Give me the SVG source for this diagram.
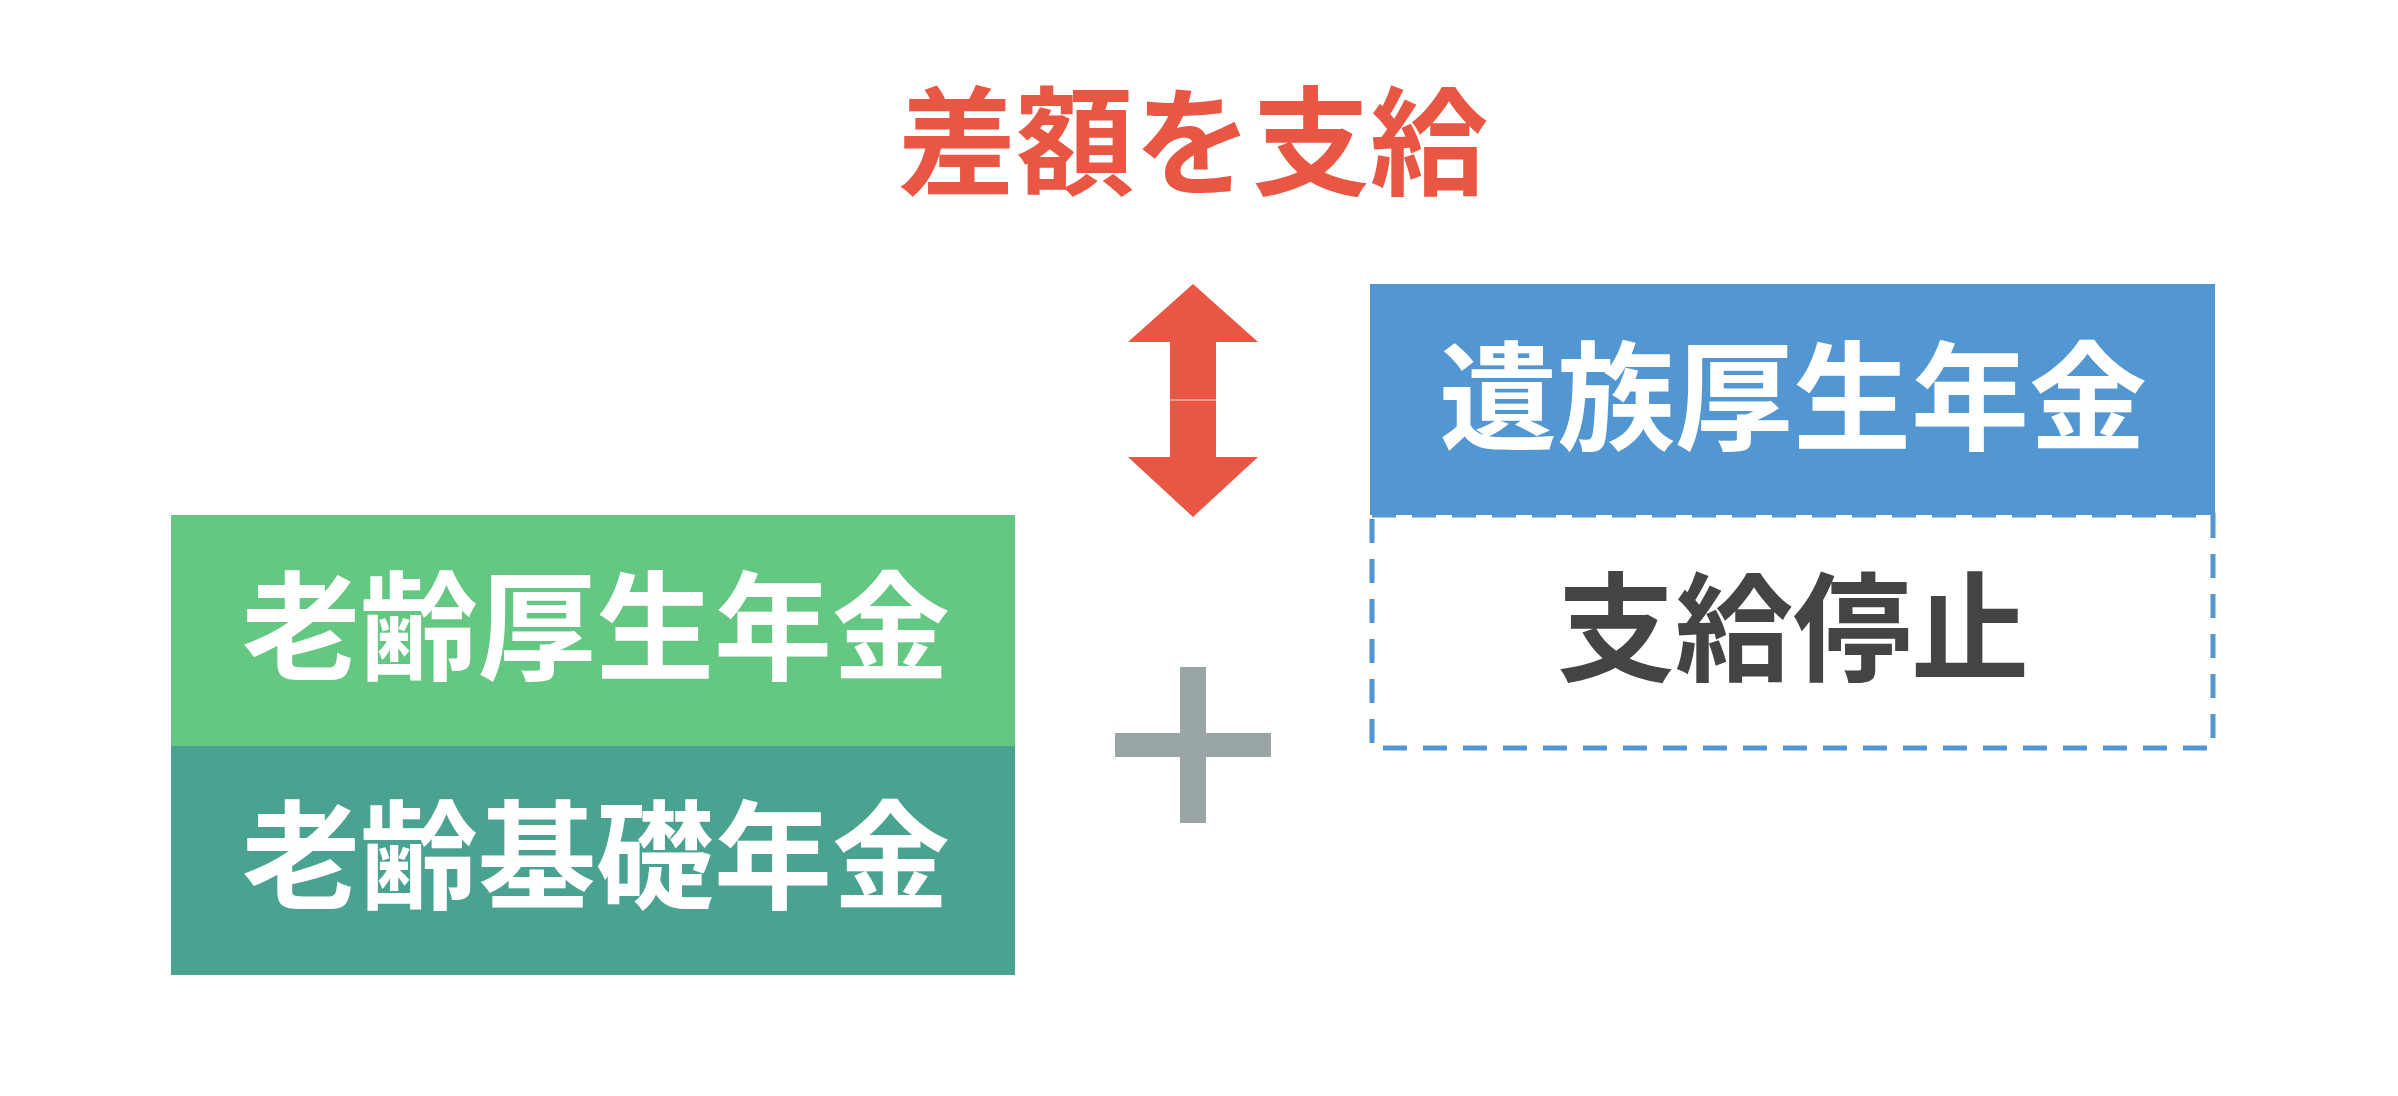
<svg xmlns="http://www.w3.org/2000/svg" width="2398" height="1096" viewBox="0 0 2398 1096">
<style>
.t{font-family:"Noto Sans CJK JP","Noto Sans",sans-serif;font-weight:bold;font-size:118px;text-anchor:middle}
</style>
<rect width="2398" height="1096" fill="#fff"/>
<g id="title"><text class="t" x="1193" y="186" fill="#E95744">差額を支給</text></g>
<g id="connectors">
<path d="M1193 284 L1258 342 L1216 342 L1216 457 L1258 457 L1193 517 L1128 457 L1170 457 L1170 342 L1128 342 Z" fill="#E95744"/>
<line x1="1170" y1="400" x2="1216" y2="400" stroke="#fff" stroke-width="1.5" opacity="0.5"/>
<rect x="1180" y="667" width="26" height="156" fill="#9AA5A6"/>
<rect x="1115" y="733" width="156" height="24" fill="#9AA5A6"/>
</g>
<g id="izoku"><rect x="1370" y="284" width="845" height="231" fill="#5297D2"/><text class="t" x="1793" y="441" fill="#fff">遺族厚生年金</text></g>
<g id="teishi"><rect x="1372" y="515" width="841" height="233" fill="none" stroke="#5297D2" stroke-width="5" stroke-dasharray="24 16"/><text class="t" x="1793" y="672" fill="#444">支給停止</text></g>
<g id="rourei-kosei"><rect x="171" y="515" width="844" height="231" fill="#64C882"/><text class="t" x="596" y="671" fill="#fff">老齢厚生年金</text></g>
<g id="rourei-kiso"><rect x="171" y="746" width="844" height="229" fill="#4AA391"/><text class="t" x="596" y="900" fill="#fff">老齢基礎年金</text></g>
</svg>
